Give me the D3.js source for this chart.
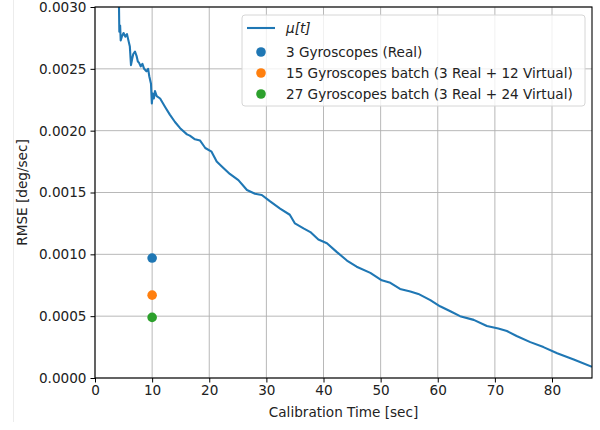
<!DOCTYPE html>
<html>
<head>
<meta charset="utf-8">
<script src="https://cdn.jsdelivr.net/npm/d3@7"></script>
<style>
    body { margin: 0; background: #fff; }
    text { font-family: "DejaVu Sans", sans-serif; fill: #222; }
</style>
</head>
<body>
<svg id="chart" width="600" height="430"></svg>
<script>
// mean RMSE curve mu[t]
const TIMES = [4.0, 4.2, 4.26, 4.4, 4.5, 4.7, 5.0, 5.3, 5.6, 5.9, 6.1, 6.3, 6.5, 6.7, 7.0, 7.3, 7.5, 7.7,
    8.0, 8.3, 8.6, 9.0, 9.3, 9.5, 9.8, 9.95, 10.1, 10.3, 10.5, 10.8, 11.4, 12.3, 13.1, 14.0, 14.9,
    16.1, 16.6, 17.5, 18.4, 19.0, 19.3, 20.4, 21.3, 22.2, 23.6, 25.1, 26.6, 28.0, 29.2, 30.6, 32.4,
    34.1, 35.0, 36.5, 37.7, 39.1, 40.6, 42.3, 44.1, 45.8, 48.2, 50.2, 51.7, 53.4, 55.2, 56.6, 58.7,
    60.4, 62.2, 63.9, 66.3, 68.6, 70.6, 72.1, 73.8, 76.2, 78.5, 80.9, 83.8, 87.0];
const MU = [0.0032, 0.00300, 0.00280, 0.00285, 0.00273, 0.00276, 0.00279, 0.00276, 0.00278, 0.00272,
    0.00268, 0.00253, 0.00258, 0.00262, 0.00264, 0.00260, 0.00256, 0.00255, 0.00252, 0.00254, 0.00250,
    0.00248, 0.00250, 0.00244, 0.00238, 0.00222, 0.00230, 0.00226, 0.00232, 0.00228, 0.00226, 0.00219,
    0.00213, 0.00207, 0.00202, 0.00197, 0.00196, 0.00193, 0.00192, 0.00188, 0.00186, 0.00183, 0.00175,
    0.00171, 0.00165, 0.00160, 0.00152, 0.00149, 0.00148, 0.00143, 0.00137, 0.00132, 0.00125, 0.00121,
    0.00118, 0.00112, 0.00109, 0.00102, 0.00095, 0.00090, 0.00085, 0.00079, 0.00077, 0.00072, 0.00070,
    0.00068, 0.00063, 0.00058, 0.00054, 0.00050, 0.00047, 0.00042, 0.00040, 0.00038, 0.00034, 0.00029,
    0.00025, 0.00020, 0.00015, 0.00009];

// batch results at 10 sec
const BATCH_LABELS = ["3 Gyroscopes (Real)", "15 Gyroscopes batch (3 Real + 12 Virtual)", "27 Gyroscopes batch (3 Real + 24 Virtual)"];
const BATCH_TIME = [10, 10, 10];
const BATCH_RMSE = [0.00097, 0.00067, 0.00049];
const BATCH_COLORS = ["#1f77b4", "#ff7f0e", "#2ca02c"];

const X_TICKS = [0, 10, 20, 30, 40, 50, 60, 70, 80];
const Y_TICKS = [0, 0.0005, 0.001, 0.0015, 0.002, 0.0025, 0.003];

const FONT = "13.6px";
const margin = {left: 95, right: 8, top: 7, bottom: 52};
const svg = d3.select("#chart");
const width = +svg.attr("width"), height = +svg.attr("height");
const plotW = width - margin.left - margin.right;
const plotH = height - margin.top - margin.bottom;

// faint figure border on the left
svg.append("line").attr("x1", 13.5).attr("x2", 13.5).attr("y1", 0).attr("y2", 422)
    .attr("stroke", "#ececec");

const x = d3.scaleLinear().domain([0, 87]).range([0, plotW]);
const y = d3.scaleLinear().domain([0, 0.003]).range([plotH, 0]);

const g = svg.append("g").attr("transform", `translate(${margin.left},${margin.top})`);

g.append("defs").append("clipPath").attr("id", "clip")
    .append("rect").attr("width", plotW).attr("height", plotH);

// grid
g.selectAll(".vgrid").data(X_TICKS).enter().append("line")
    .attr("x1", d => x(d)).attr("x2", d => x(d)).attr("y1", 0).attr("y2", plotH)
    .attr("stroke", "#b0b0b0").attr("stroke-width", 0.9);
g.selectAll(".hgrid").data(Y_TICKS).enter().append("line")
    .attr("x1", 0).attr("x2", plotW).attr("y1", d => y(d)).attr("y2", d => y(d))
    .attr("stroke", "#b0b0b0").attr("stroke-width", 0.9);

// mu[t] line
const line = d3.line().x((d, i) => x(TIMES[i])).y(d => y(d));
g.append("path").datum(MU)
    .attr("clip-path", "url(#clip)")
    .attr("d", line)
    .attr("fill", "none").attr("stroke", "#1f77b4").attr("stroke-width", 2.1)
    .attr("stroke-linejoin", "round");

// batch points
g.selectAll(".pt").data(BATCH_RMSE).enter().append("circle")
    .attr("cx", (d, i) => x(BATCH_TIME[i])).attr("cy", d => y(d)).attr("r", 4.8)
    .attr("fill", (d, i) => BATCH_COLORS[i]);

// axes
const xAxis = g.append("g").attr("transform", `translate(0,${plotH})`)
    .call(d3.axisBottom(x).tickValues(X_TICKS).tickSize(4.5).tickPadding(3));
const yAxis = g.append("g")
    .call(d3.axisLeft(y).tickValues(Y_TICKS).tickFormat(d3.format(".4f")).tickSize(4.5).tickPadding(4));
[xAxis, yAxis].forEach(a => {
    a.select(".domain").remove();
    a.selectAll("text").style("font-size", FONT).attr("fill", "#222")
        .style("font-family", "'DejaVu Sans', sans-serif");
    a.selectAll("line").attr("stroke", "#000");
});

// spines
g.append("rect").attr("width", plotW).attr("height", plotH)
    .attr("fill", "none").attr("stroke", "#000").attr("stroke-width", 1.1);

// axis labels
svg.append("text").attr("x", margin.left + plotW / 2).attr("y", 417)
    .attr("text-anchor", "middle").style("font-size", FONT).text("Calibration Time [sec]");
svg.append("text").attr("transform", `translate(27,${margin.top + plotH / 2}) rotate(-90)`)
    .attr("text-anchor", "middle").style("font-size", FONT).text("RMSE [deg/sec]");

// legend
const leg = svg.append("g").attr("transform", "translate(242,15)");
leg.append("rect").attr("width", 343).attr("height", 91).attr("rx", 3)
    .attr("fill", "rgba(255,255,255,0.8)").attr("stroke", "#d6d6d6");
leg.append("line").attr("x1", 5).attr("x2", 33).attr("y1", 13).attr("y2", 13)
    .attr("stroke", "#1f77b4").attr("stroke-width", 2.1);
leg.append("text").attr("x", 44).attr("y", 18).style("font-size", FONT)
    .style("font-style", "italic").text("μ[t]");
leg.selectAll(".li").data(BATCH_LABELS).enter().append("g")
    .attr("transform", (d, i) => `translate(0,${37 + i * 21})`)
    .each(function(d, i) {
        const row = d3.select(this);
        row.append("circle").attr("cx", 19).attr("cy", 0).attr("r", 4.8).attr("fill", BATCH_COLORS[i]);
        row.append("text").attr("x", 44).attr("y", 5).style("font-size", FONT).text(d);
    });
</script>
</body>
</html>
